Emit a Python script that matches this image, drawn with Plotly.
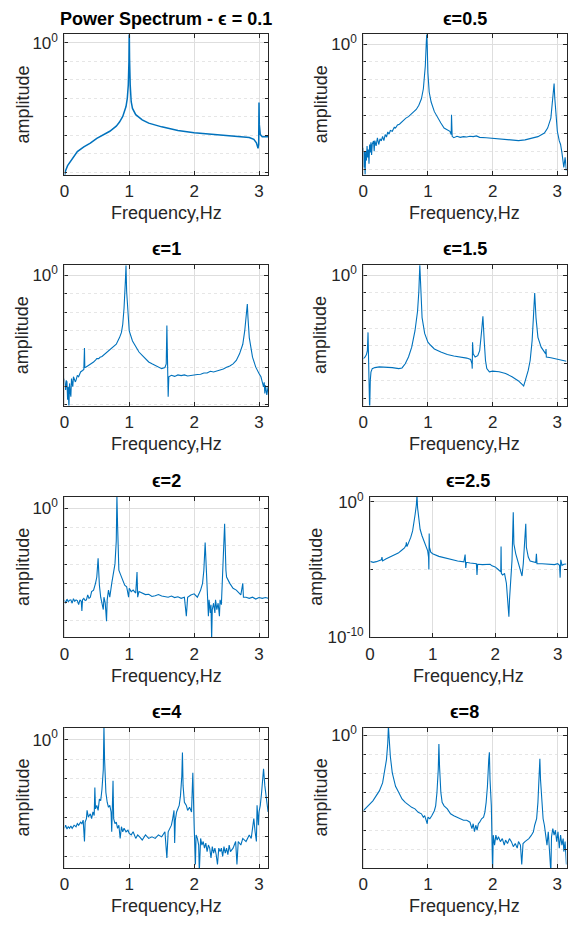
import plotly.graph_objects as go

# ---------------- data (frequency in Hz, amplitude as log10 value) ----------------
freq_01 = [0.0, 0.02, 0.05, 0.1, 0.15, 0.2, 0.3, 0.4, 0.5, 0.6, 0.7, 0.8, 0.85, 0.9, 0.95, 0.97, 0.985, 0.995,
           1.0, 1.005, 1.015, 1.03, 1.05, 1.1, 1.2, 1.3, 1.5, 1.75, 2.0, 2.3, 2.6, 2.85, 2.92, 2.96, 2.985,
           2.995, 3.0, 3.005, 3.02, 3.05, 3.14]
lamp_01 = [-36.2, -34.5, -33.2, -31.9, -30.5, -29.4, -28.1, -27.1, -25.8, -24.9, -23.9, -22.5, -21.4, -19.9,
           -17.2, -15.0, -11.4, -5.2, 4.5, -4.3, -11.4, -15.9, -17.7, -19.4, -20.8, -21.7, -22.7, -23.7, -24.3,
           -24.8, -25.3, -25.6, -26.1, -27.0, -28.5, -27.4, -16.1, -22.1, -24.8, -25.4, -25.4]

freq_05 = [0.0, 0.01, 0.02, 0.03, 0.04, 0.05, 0.06, 0.07, 0.08, 0.09, 0.1, 0.11, 0.12, 0.13, 0.14, 0.16, 0.17,
           0.18, 0.2, 0.22, 0.24, 0.26, 0.28, 0.3, 0.32, 0.34, 0.36, 0.38, 0.4, 0.42, 0.45, 0.48, 0.5, 0.53,
           0.56, 0.6, 0.63, 0.66, 0.7, 0.74, 0.78, 0.82, 0.86, 0.9, 0.93, 0.95, 0.96, 0.975, 0.982, 0.99, 1.0,
           1.02, 1.05, 1.1, 1.15, 1.2, 1.25, 1.3, 1.34, 1.36, 1.365, 1.375, 1.4, 1.45, 1.5, 1.55, 1.6, 1.65,
           1.7, 1.75, 1.8, 1.9, 2.0, 2.1, 2.2, 2.3, 2.4, 2.5, 2.6, 2.7, 2.8, 2.85, 2.9, 2.93, 2.95, 2.96, 2.98,
           3.0, 3.03, 3.05, 3.07, 3.09, 3.1, 3.12, 3.14]
lamp_05 = [-29.0, -34.5, -30.0, -36.5, -29.9, -32.6, -28.5, -31.7, -29.5, -33.5, -28.1, -30.3, -27.5, -31.0,
           -28.0, -27.1, -30.0, -27.0, -28.5, -26.2, -28.1, -26.5, -27.1, -25.8, -27.0, -25.3, -26.0, -24.6,
           -25.2, -24.2, -24.4, -23.3, -23.5, -22.6, -22.4, -21.7, -21.4, -20.7, -20.3, -19.6, -19.0, -18.3,
           -17.1, -15.3, -12.5, -9.0, -6.1, 0.3, 3.0, -0.6, -8.0, -13.4, -16.2, -18.9, -20.7, -22.1, -23.5,
           -23.9, -24.4, -25.3, -19.8, -25.8, -26.2, -25.8, -26.1, -25.9, -26.0, -25.8, -25.9, -25.7, -26.1,
           -26.2, -26.4, -26.6, -26.8, -27.0, -27.0, -26.8, -26.4, -25.9, -24.9, -23.5, -20.7, -15.3, -11.0,
           -15.0, -20.7, -24.4, -27.1, -28.1, -30.3, -32.6, -34.5, -31.7, -35.4]

freq_1 = [0.0, 0.01, 0.02, 0.03, 0.04, 0.05, 0.06, 0.07, 0.08, 0.09, 0.1, 0.11, 0.12, 0.13, 0.14, 0.15, 0.17,
          0.18, 0.2, 0.22, 0.25, 0.28, 0.3, 0.31, 0.315, 0.33, 0.35, 0.38, 0.4, 0.43, 0.45, 0.48, 0.5, 0.53,
          0.55, 0.58, 0.6, 0.63, 0.65, 0.68, 0.7, 0.75, 0.8, 0.85, 0.88, 0.9, 0.92, 0.94, 0.95, 0.96, 0.98,
          1.0, 1.05, 1.1, 1.15, 1.2, 1.25, 1.3, 1.35, 1.4, 1.45, 1.5, 1.55, 1.57, 1.58, 1.59, 1.6, 1.61, 1.65,
          1.7, 1.75, 1.8, 1.85, 1.9, 1.95, 2.0, 2.05, 2.1, 2.15, 2.2, 2.25, 2.3, 2.35, 2.4, 2.45, 2.5, 2.55,
          2.6, 2.65, 2.7, 2.75, 2.78, 2.8, 2.82, 2.83, 2.85, 2.9, 2.95, 3.0, 3.03, 3.05, 3.07, 3.08, 3.09, 3.1,
          3.12, 3.14]
lamp_1 = [-28.0, -30.5, -31.1, -28.5, -28.9, -33.7, -30.2, -36.0, -29.3, -31.5, -32.9, -28.0, -30.0, -30.2,
          -27.5, -28.0, -28.9, -28.4, -27.1, -27.5, -26.2, -25.8, -25.5, -19.7, -25.0, -24.9, -24.7, -24.2,
          -24.0, -23.8, -23.5, -23.0, -22.6, -22.6, -22.2, -22.0, -21.7, -21.2, -20.8, -20.6, -20.2, -19.5,
          -18.7, -16.9, -15.5, -13.3, -8.9, -1.8, 2.7, -4.4, -10.7, -15.1, -17.8, -19.5, -20.8, -21.7, -22.6,
          -23.5, -24.0, -24.4, -24.9, -25.3, -25.0, -24.0, -13.6, -25.8, -32.9, -27.5, -27.1, -27.4, -27.0,
          -27.2, -27.0, -27.3, -27.1, -27.1, -26.9, -26.8, -26.5, -26.5, -26.0, -26.2, -25.9, -25.8, -25.4,
          -24.9, -24.6, -24.0, -23.1, -21.3, -18.7, -15.1, -10.7, -7.8, -11.5, -16.9, -22.2, -24.9, -26.6,
          -27.5, -28.9, -30.2, -29.0, -32.0, -29.8, -32.4, -30.2]

freq_15 = [0.0, 0.03, 0.05, 0.065, 0.075, 0.08, 0.09, 0.1, 0.11, 0.12, 0.14, 0.18, 0.25, 0.35, 0.45, 0.55, 0.6,
           0.65, 0.7, 0.75, 0.8, 0.84, 0.86, 0.875, 0.89, 0.91, 0.95, 1.0, 1.05, 1.1, 1.2, 1.3, 1.4, 1.5, 1.6,
           1.66, 1.68, 1.685, 1.69, 1.7, 1.73, 1.77, 1.8, 1.83, 1.85, 1.87, 1.89, 1.91, 1.95, 2.0, 2.1, 2.2,
           2.3, 2.4, 2.45, 2.48, 2.5, 2.55, 2.58, 2.61, 2.63, 2.65, 2.67, 2.7, 2.75, 2.8, 2.82, 2.825, 2.83,
           2.9, 3.0, 3.14]
lamp_15 = [-23.7, -23.2, -22.5, -21.4, -16.2, -23.2, -29.8, -38.5, -29.8, -27.5, -26.5, -26.2, -26.0, -26.0,
           -26.2, -26.5, -26.3, -25.1, -23.2, -20.4, -15.8, -10.2, -4.6, 3.0, -4.6, -12.0, -16.5, -19.0, -20.0,
           -20.9, -21.8, -22.5, -22.9, -23.2, -23.5, -23.9, -25.1, -26.5, -19.0, -22.3, -23.2, -22.8, -21.4,
           -15.8, -11.6, -18.6, -24.2, -26.5, -27.4, -27.2, -27.4, -27.9, -28.8, -30.0, -30.9, -31.4, -30.2,
           -27.0, -24.2, -18.6, -12.0, -5.0, -12.0, -17.6, -20.4, -21.8, -22.3, -20.9, -23.2, -23.4, -23.9,
           -24.4]

freq_2 = [0.0, 0.02, 0.04, 0.06, 0.08, 0.1, 0.12, 0.14, 0.16, 0.18, 0.2, 0.22, 0.24, 0.26, 0.27, 0.28, 0.3,
          0.32, 0.34, 0.36, 0.38, 0.4, 0.42, 0.45, 0.48, 0.5, 0.52, 0.53, 0.54, 0.56, 0.58, 0.6, 0.61, 0.63,
          0.65, 0.66, 0.68, 0.7, 0.73, 0.75, 0.78, 0.8, 0.81, 0.82, 0.84, 0.86, 0.88, 0.9, 0.93, 0.96, 0.99,
          1.0, 1.03, 1.06, 1.1, 1.12, 1.13, 1.15, 1.2, 1.25, 1.3, 1.35, 1.4, 1.45, 1.5, 1.55, 1.6, 1.65, 1.7,
          1.75, 1.8, 1.85, 1.88, 1.9, 1.95, 2.0, 2.05, 2.08, 2.1, 2.13, 2.15, 2.17, 2.19, 2.2, 2.21, 2.22,
          2.23, 2.25, 2.26, 2.27, 2.28, 2.3, 2.32, 2.33, 2.35, 2.37, 2.39, 2.4, 2.42, 2.43, 2.45, 2.47, 2.49,
          2.5, 2.55, 2.6, 2.65, 2.7, 2.72, 2.75, 2.76, 2.8, 2.85, 2.9, 2.95, 3.0, 3.05, 3.1, 3.14]
lamp_2 = [-24.4, -25.3, -24.2, -24.9, -24.5, -24.4, -25.3, -24.1, -24.8, -24.4, -24.6, -25.7, -24.4, -24.8,
          -27.4, -24.4, -24.0, -24.6, -24.4, -23.1, -24.0, -23.7, -22.2, -21.8, -20.0, -18.3, -13.3, -18.0,
          -20.5, -23.7, -25.3, -27.0, -23.7, -25.3, -30.1, -24.4, -21.8, -23.7, -20.0, -18.3, -14.8, -8.7,
          3.5, -4.3, -16.5, -17.4, -18.3, -19.6, -20.5, -20.9, -23.7, -21.3, -22.2, -21.8, -22.6, -17.0,
          -23.7, -22.2, -22.6, -23.0, -22.9, -23.5, -23.3, -23.0, -23.4, -23.6, -23.7, -23.4, -23.8, -23.6,
          -24.0, -23.7, -28.8, -23.7, -23.1, -22.8, -23.7, -22.6, -21.8, -20.0, -16.5, -9.1, -17.4, -22.6,
          -25.3, -28.8, -24.4, -27.9, -25.7, -35.0, -27.0, -25.3, -27.9, -24.4, -27.0, -25.3, -28.8, -24.4,
          -25.7, -20.9, -16.5, -4.1, -16.5, -18.3, -20.0, -21.3, -21.8, -22.6, -23.1, -20.0, -23.7, -23.7,
          -24.0, -23.7, -24.2, -23.8, -24.0, -23.8, -24.0]

freq_25 = [0.0, 0.05, 0.1, 0.15, 0.18, 0.19, 0.2, 0.25, 0.3, 0.35, 0.4, 0.45, 0.5, 0.55, 0.575, 0.58, 0.59,
           0.62, 0.65, 0.68, 0.7, 0.72, 0.74, 0.75, 0.76, 0.78, 0.8, 0.83, 0.86, 0.9, 0.92, 0.935, 0.94, 0.945,
           0.95, 0.97, 1.0, 1.1, 1.2, 1.3, 1.4, 1.5, 1.52, 1.53, 1.54, 1.6, 1.7, 1.71, 1.72, 1.8, 1.9, 1.92,
           1.95, 2.0, 2.05, 2.09, 2.095, 2.1, 2.12, 2.15, 2.18, 2.2, 2.22, 2.23, 2.25, 2.27, 2.29, 2.3, 2.33,
           2.37, 2.4, 2.43, 2.45, 2.47, 2.49, 2.5, 2.53, 2.56, 2.6, 2.65, 2.66, 2.67, 2.75, 2.85, 2.95, 3.0,
           3.03, 3.04, 3.05, 3.07, 3.1, 3.14]
lamp_25 = [-4.40, -4.47, -4.42, -4.32, -4.28, -4.08, -4.37, -4.23, -4.13, -4.03, -3.91, -3.79, -3.60, -3.41,
           -3.20, -3.00, -3.31, -3.00, -2.63, -2.15, -1.67, -0.94, -0.22, 0.5, -0.46, -1.43, -2.03, -2.51,
           -2.87, -3.24, -3.60, -4.08, -5.00, -2.34, -3.36, -3.72, -3.84, -4.03, -4.15, -4.28, -4.37, -4.44,
           -3.89, -4.88, -4.47, -4.52, -4.57, -5.41, -4.61, -4.64, -4.66, -4.61, -4.73, -4.81, -5.00, -5.17,
           -3.31, -5.29, -5.41, -5.29, -6.01, -6.98, -8.48, -7.22, -5.53, -4.32, -0.77, -3.12, -3.84, -4.57,
           -5.05, -5.48, -4.57, -2.87, -1.62, -3.36, -4.08, -4.37, -4.44, -4.49, -3.84, -4.57, -4.57, -4.61,
           -4.64, -4.57, -4.69, -5.60, -4.28, -4.69, -4.61, -4.59]

freq_4 = [0.0, 0.02, 0.04, 0.06, 0.08, 0.1, 0.12, 0.15, 0.18, 0.2, 0.22, 0.25, 0.27, 0.29, 0.31, 0.32, 0.34,
          0.35, 0.37, 0.4, 0.42, 0.44, 0.46, 0.47, 0.48, 0.5, 0.52, 0.54, 0.56, 0.58, 0.6, 0.61, 0.62, 0.64,
          0.66, 0.68, 0.7, 0.72, 0.73, 0.74, 0.75, 0.76, 0.78, 0.8, 0.82, 0.84, 0.86, 0.88, 0.9, 0.92, 0.95,
          0.98, 1.0, 1.03, 1.06, 1.1, 1.13, 1.16, 1.2, 1.25, 1.3, 1.35, 1.4, 1.45, 1.5, 1.55, 1.58, 1.6, 1.63,
          1.65, 1.67, 1.69, 1.7, 1.71, 1.73, 1.75, 1.77, 1.79, 1.81, 1.82, 1.83, 1.85, 1.88, 1.9, 1.93, 1.96,
          1.98, 2.0, 2.02, 2.03, 2.05, 2.07, 2.08, 2.1, 2.12, 2.14, 2.16, 2.18, 2.2, 2.22, 2.24, 2.26, 2.28,
          2.3, 2.32, 2.34, 2.36, 2.38, 2.4, 2.42, 2.44, 2.46, 2.48, 2.5, 2.52, 2.54, 2.56, 2.6, 2.64, 2.66,
          2.68, 2.72, 2.75, 2.8, 2.85, 2.88, 2.9, 2.92, 2.94, 2.96, 2.97, 2.98, 2.99, 3.0, 3.02, 3.04, 3.06,
          3.07, 3.09, 3.11, 3.13, 3.14]
lamp_4 = [-22.8, -22.0, -23.0, -22.4, -22.8, -22.2, -22.8, -22.0, -22.4, -21.6, -22.0, -21.2, -21.6, -20.7,
          -26.2, -21.2, -20.3, -18.2, -19.9, -19.1, -20.3, -18.6, -19.5, -12.3, -17.8, -16.9, -18.2, -15.3,
          -15.7, -12.7, -7.7, 3.5, -5.2, -13.6, -16.1, -17.4, -16.9, -18.6, -23.7, -17.8, -10.6, -20.3, -21.6,
          -21.2, -22.8, -22.0, -25.4, -22.4, -23.7, -22.8, -23.7, -23.3, -24.1, -24.5, -23.7, -25.4, -24.5,
          -25.0, -25.8, -24.5, -25.4, -25.0, -25.4, -24.5, -25.0, -23.7, -30.4, -23.7, -22.8, -22.0, -20.3,
          -18.2, -26.6, -20.7, -18.6, -17.4, -16.9, -14.4, -9.4, -3.3, -11.9, -16.1, -16.9, -18.2, -17.4,
          -18.6, -8.5, -22.0, -32.1, -24.5, -25.4, -27.1, -34.0, -25.4, -27.1, -26.2, -27.9, -26.6, -28.8,
          -27.1, -27.9, -30.4, -27.5, -29.2, -27.9, -29.6, -32.1, -27.9, -28.8, -27.9, -30.0, -27.5, -29.2,
          -27.9, -29.6, -27.1, -28.8, -27.9, -26.2, -32.1, -26.2, -27.1, -25.4, -26.2, -24.5, -25.4, -22.8,
          -20.3, -23.7, -26.2, -16.9, -20.3, -22.0, -18.6, -16.9, -13.6, -10.2, -7.5, -11.9, -15.3, -16.9,
          -18.6]

freq_8 = [0.0, 0.05, 0.1, 0.15, 0.2, 0.25, 0.3, 0.33, 0.36, 0.38, 0.39, 0.4, 0.42, 0.45, 0.5, 0.55, 0.6, 0.65,
          0.7, 0.75, 0.8, 0.85, 0.9, 0.93, 0.95, 0.97, 0.99, 1.0, 1.03, 1.06, 1.08, 1.1, 1.12, 1.14, 1.16,
          1.17, 1.18, 1.2, 1.22, 1.25, 1.3, 1.35, 1.4, 1.45, 1.5, 1.55, 1.6, 1.65, 1.68, 1.7, 1.72, 1.74,
          1.76, 1.78, 1.8, 1.83, 1.86, 1.88, 1.9, 1.92, 1.94, 1.95, 1.96, 1.98, 2.0, 2.01, 2.03, 2.05, 2.07,
          2.09, 2.12, 2.15, 2.18, 2.2, 2.23, 2.26, 2.29, 2.32, 2.35, 2.38, 2.4, 2.43, 2.45, 2.47, 2.5, 2.53,
          2.56, 2.6, 2.63, 2.65, 2.68, 2.7, 2.72, 2.73, 2.74, 2.76, 2.78, 2.8, 2.82, 2.84, 2.86, 2.88, 2.9,
          2.91, 2.93, 2.95, 2.97, 2.99, 3.01, 3.03, 3.05, 3.07, 3.09, 3.1, 3.12, 3.14]
lamp_8 = [-19.8, -18.9, -18.0, -17.2, -15.9, -14.6, -12.5, -9.9, -6.4, -2.1, 2.5, -0.4, -5.6, -9.9, -13.4,
          -15.0, -16.7, -17.6, -18.3, -18.9, -19.3, -20.2, -20.6, -21.5, -21.1, -22.3, -23.2, -21.5, -21.9,
          -21.1, -20.6, -19.8, -18.5, -15.0, -9.0, -2.3, -8.2, -15.0, -17.6, -18.5, -19.3, -20.6, -21.1,
          -21.5, -21.7, -22.3, -22.3, -22.8, -24.5, -23.2, -25.3, -23.6, -24.9, -23.2, -22.8, -21.9, -21.5,
          -20.2, -17.6, -13.4, -6.4, -4.5, -11.6, -18.5, -36.0, -26.2, -28.8, -26.2, -27.5, -26.6, -27.9,
          -27.1, -28.8, -27.5, -28.4, -27.1, -27.9, -29.2, -28.4, -29.6, -27.9, -28.8, -33.9, -28.4, -27.9,
          -27.5, -27.1, -26.2, -25.3, -23.6, -21.9, -17.6, -11.6, -6.2, -11.6, -18.5, -21.9, -23.6, -26.2,
          -28.8, -25.3, -30.5, -36.0, -26.6, -24.5, -26.2, -24.9, -27.9, -25.3, -29.6, -26.2, -28.8, -27.1,
          -30.5, -27.9, -33.9]

titles = ["Power Spectrum - ϵ = 0.1", "ϵ=0.5", "ϵ=1", "ϵ=1.5", "ϵ=2", "ϵ=2.5", "ϵ=4", "ϵ=8"]
series = [(freq_01, lamp_01), (freq_05, lamp_05), (freq_1, lamp_1), (freq_15, lamp_15),
          (freq_2, lamp_2), (freq_25, lamp_25), (freq_4, lamp_4), (freq_8, lamp_8)]
x_ticks = [0, 1, 2, 3]
x_label = "Frequency,Hz"
y_label = "amplitude"

# log10 axis limits of each panel, major labelled ticks and minor grid ticks (in decades)
y_ranges = [(-35.7, 2.3), (-36.6, 2.7), (-35.3, 2.7), (-37.0, 2.9),
            (-34.4, 3.1), (-10.0, 0.36), (-33.0, 3.1), (-34.8, 2.0)]
y_major = [[0]] * 5 + [[0, -10]] + [[0]] * 2
y_minor = [[-5, -10, -15, -20, -25, -30, -35]] * 4 + [[-5, -10, -15, -20, -25, -30]] + [[-5]] + \
          [[-5, -10, -15, -20, -25, -30]] * 2

# ---------------- layout geometry (pixels) ----------------
W, H = 568, 930
col_x = [(60, 266), (362, 567.5)]
row_y = [(28, 171), (263, 406), (499, 642), (734, 877)]
ylab_x = [18, 319]

FONT = "Liberation Sans, Arial, Helvetica, sans-serif"
LINE = "#0072BD"
AX = "#262626"

fig = go.Figure()
annotations = []
shapes = []
for i, ((fx, fy), title) in enumerate(zip(series, titles)):
    r, c = divmod(i, 2)
    x0, x1 = col_x[c]
    if i == 5:
        x0 = 369
    y0, y1 = row_y[r]
    n = "" if i == 0 else str(i + 1)
    fig.add_trace(go.Scatter(
        x=fx, y=[10 ** v for v in fy], mode="lines",
        line=dict(color=LINE, width=1.5 if i == 0 else 1.1),
        xaxis="x" + n, yaxis="y" + n, showlegend=False, hoverinfo="skip"))
    lo, hi = y_ranges[i]
    fig.layout["xaxis" + n] = dict(
        domain=[x0 / W, x1 / W], anchor="y" + n, range=[0, 3.1416],
        tickvals=x_ticks, ticktext=[str(t) for t in x_ticks], ticks="inside", ticklen=4,
        tickcolor=AX, showline=True, linecolor=AX, linewidth=1, mirror="ticks",
        showgrid=True, gridcolor="#dedede", gridwidth=1, zeroline=False,
        tickfont=dict(family=FONT, size=17, color=AX), ticklabelstandoff=1)
    fig.layout["yaxis" + n] = dict(
        domain=[1 - y1 / H, 1 - y0 / H], anchor="x" + n, type="log", range=[lo, hi],
        tickvals=[10.0 ** v for v in y_major[i]],
        ticktext=["10<sup>%d</sup>" % v for v in y_major[i]],
        ticks="inside", ticklen=4, tickcolor=AX, showline=True, linecolor=AX, linewidth=1,
        mirror="ticks", showgrid=True, gridcolor="#dedede", gridwidth=1, zeroline=False,
        tickfont=dict(family=FONT, size=17, color=AX), ticklabelstandoff=2,
        minor=dict(tickvals=[10.0 ** v for v in y_minor[i]], ticks="inside", ticklen=3,
                   tickcolor=AX, showgrid=True, gridcolor="#e6e6e6", griddash="dot", gridwidth=1))
    # MATLAB draws the x = 0 grid line over the left box edge, so that edge looks light grey
    shapes.append(dict(type="line", xref="x" + n, yref="y" + n + " domain", x0=0, x1=0, y0=0, y1=1,
                       line=dict(color="#c4c4c4", width=1), layer="above"))
    xc = (x0 + x1) / 2 / W
    annotations.append(dict(text="<b>%s</b>" % title, x=xc, y=1 - (y0 - 4) / H, xref="paper", yref="paper",
                            xanchor="center", yanchor="bottom", showarrow=False,
                            font=dict(family=FONT, size=18, color="#000000")))
    annotations.append(dict(text=x_label, x=xc, y=1 - (y1 + 39) / H, xref="paper", yref="paper",
                            xanchor="center", yanchor="middle", showarrow=False,
                            font=dict(family=FONT, size=18, color=AX)))
    annotations.append(dict(text=y_label, x=(ylab_x[c] - (5 if i == 5 else 0)) / W, y=1 - (y0 + y1) / 2 / H,
                            xref="paper", yref="paper", xanchor="center", yanchor="middle",
                            textangle=-90, showarrow=False,
                            font=dict(family=FONT, size=18, color=AX)))

fig.update_layout(width=W, height=H, margin=dict(l=0, r=0, t=0, b=0),
                  paper_bgcolor="white", plot_bgcolor="white", annotations=annotations, shapes=shapes)
fig.write_html("out.html")
